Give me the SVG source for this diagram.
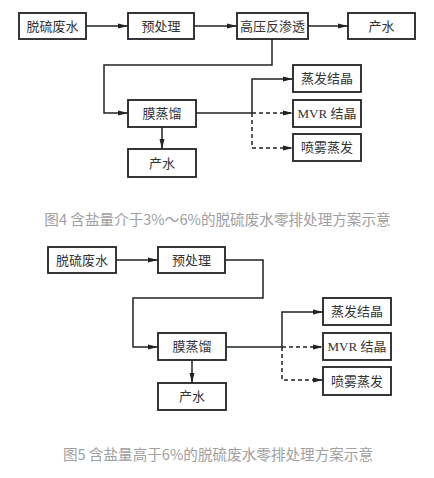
<svg xmlns="http://www.w3.org/2000/svg" width="434" height="478" viewBox="0 0 434 478">
<style>
.box{fill:#fff;stroke:#222;stroke-width:1.8}
.t{font-family:"Liberation Serif","Noto Sans CJK SC",serif;font-size:13px;fill:#333;text-anchor:middle;dominant-baseline:central}
.ln{fill:none;stroke:#222;stroke-width:1.5}
.ds{fill:none;stroke:#222;stroke-width:1.5;stroke-dasharray:4,3}
.cap{font-family:"Noto Sans CJK SC","Noto Sans",sans-serif;font-size:14.6px;fill:#a0a0a0;text-anchor:middle;dominant-baseline:central}
</style>
<defs>
<marker id="ah" viewBox="0 0 10 6" refX="10" refY="3" markerWidth="10" markerHeight="6" markerUnits="userSpaceOnUse" orient="auto">
<path d="M0,0.5 L10,3 L0,5.5 Z" fill="#222"/>
</marker>
</defs>
<rect width="434" height="478" fill="#fff"/>
<g id="connectors">
<line class="ln" x1="86" y1="26" x2="128" y2="26" marker-end="url(#ah)"/>
<line class="ln" x1="194" y1="26" x2="237" y2="26" marker-end="url(#ah)"/>
<line class="ln" x1="308" y1="26" x2="348" y2="26" marker-end="url(#ah)"/>
<polyline class="ln" points="272,39 272,65 104,65 104,113 128,113" marker-end="url(#ah)"/>
<line class="ln" x1="162" y1="127" x2="162" y2="149" marker-end="url(#ah)"/>
<line class="ln" x1="196" y1="113" x2="252" y2="113"/>
<polyline class="ln" points="252,113 252,79 293,79" marker-end="url(#ah)"/>
<line class="ds" x1="252" y1="113" x2="293" y2="113" marker-end="url(#ah)"/>
<polyline class="ds" points="252,113 252,148 293,148" marker-end="url(#ah)"/>
<line class="ln" x1="116" y1="260" x2="158" y2="260" marker-end="url(#ah)"/>
<polyline class="ln" points="225,260 263,260 263,298 133,298 133,347 158,347" marker-end="url(#ah)"/>
<line class="ln" x1="192" y1="360" x2="192" y2="383" marker-end="url(#ah)"/>
<line class="ln" x1="226" y1="347" x2="282" y2="347"/>
<polyline class="ln" points="282,347 282,312 323,312" marker-end="url(#ah)"/>
<line class="ds" x1="282" y1="347" x2="323" y2="347" marker-end="url(#ah)"/>
<polyline class="ds" points="282,347 282,380 323,380" marker-end="url(#ah)"/>
</g>
<g id="f4-tlfs"><rect class="box" x="19" y="13" width="67" height="26"/><text class="t" x="52.5" y="26">脱硫废水</text></g>
<g id="f4-ycl"><rect class="box" x="128" y="13" width="66" height="26"/><text class="t" x="161" y="26">预处理</text></g>
<g id="f4-gyfst"><rect class="box" x="237" y="13" width="71" height="26"/><text class="t" x="272.5" y="26">高压反渗透</text></g>
<g id="f4-cs1"><rect class="box" x="348" y="13" width="67" height="26"/><text class="t" x="381.5" y="26">产水</text></g>
<g id="f4-mzl"><rect class="box" x="128" y="100" width="68" height="27"/><text class="t" x="162" y="113.5">膜蒸馏</text></g>
<g id="f4-cs2"><rect class="box" x="128" y="149" width="68" height="28"/><text class="t" x="162" y="163">产水</text></g>
<g id="f4-zfjj"><rect class="box" x="293" y="65" width="68" height="27"/><text class="t" x="327" y="78.5">蒸发结晶</text></g>
<g id="f4-mvr"><rect class="box" x="293" y="100" width="68" height="27"/><text class="t" x="327" y="113.5">MVR 结晶</text></g>
<g id="f4-pwzf"><rect class="box" x="293" y="134" width="68" height="27"/><text class="t" x="327" y="147.5">喷雾蒸发</text></g>
<text class="cap" x="217.5" y="218">图4 含盐量介于3%～6%的脱硫废水零排处理方案示意</text>
<g id="f5-tlfs"><rect class="box" x="48" y="247" width="68" height="26"/><text class="t" x="82" y="260">脱硫废水</text></g>
<g id="f5-ycl"><rect class="box" x="158" y="247" width="67" height="26"/><text class="t" x="191.5" y="260">预处理</text></g>
<g id="f5-mzl"><rect class="box" x="158" y="333" width="68" height="27"/><text class="t" x="192" y="346.5">膜蒸馏</text></g>
<g id="f5-cs"><rect class="box" x="158" y="383" width="68" height="27"/><text class="t" x="192" y="396.5">产水</text></g>
<g id="f5-zfjj"><rect class="box" x="323" y="298" width="68" height="27"/><text class="t" x="357" y="311.5">蒸发结晶</text></g>
<g id="f5-mvr"><rect class="box" x="323" y="333" width="68" height="27"/><text class="t" x="357" y="346.5">MVR 结晶</text></g>
<g id="f5-pwzf"><rect class="box" x="323" y="367" width="68" height="28"/><text class="t" x="357" y="381">喷雾蒸发</text></g>
<text class="cap" x="218" y="453">图5 含盐量高于6%的脱硫废水零排处理方案示意</text>
</svg>
